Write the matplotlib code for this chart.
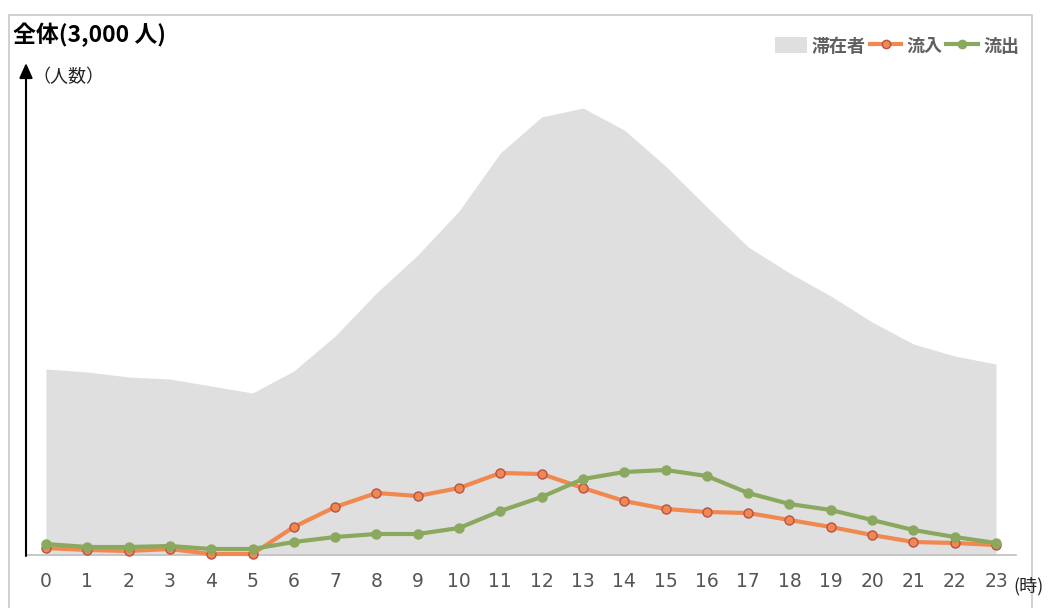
import matplotlib
matplotlib.use("Agg")
import matplotlib.pyplot as plt
from matplotlib.patches import Rectangle
from matplotlib.lines import Line2D
from matplotlib.patches import Patch

plt.rcParams['font.family'] = ['Noto Sans CJK JP', 'DejaVu Sans']

hours = list(range(24))
hour_labels = [str(h) for h in hours]
stay = [186, 183, 178, 176, 169, 162, 184, 219, 262, 300, 344, 402,
        438, 447, 425, 389, 348, 308, 282, 259, 233, 211, 199, 191]
inflow = [7, 5, 4, 6, 1, 1, 28, 48, 62, 59, 67, 82,
          81, 67, 54, 46, 43, 42, 35, 28, 20, 13, 12, 10]
outflow = [11, 8, 8, 9, 6, 6, 13, 18, 21, 21, 27, 44,
           58, 76, 83, 85, 79, 62, 51, 45, 35, 25, 18, 12]

W, H = 1051, 608
fig = plt.figure(figsize=(W / 100, H / 100), dpi=100)

# outer frame
fig.patches.append(Rectangle((9 / W, -0.1), (1032 - 9) / W, (H - 15) / H + 0.1,
                             transform=fig.transFigure, fill=False,
                             edgecolor='#c8c8c8', linewidth=1.2))

left, right = 26, 1016
bottom_px, top_px = 555, 62
ax = fig.add_axes([left / W, (H - bottom_px) / H, (right - left) / W,
                   (bottom_px - top_px) / H])
ax.set_xlim(-0.484, 23.484)
ax.set_ylim(0, bottom_px - top_px)

c_stay = '#dfdfdf'
c_in = '#f0884f'
c_in_edge = '#b5524a'
c_out = '#8aa85e'

ax.fill_between(hours, stay, 0, color=c_stay, linewidth=0, zorder=1)
ax.plot(hours, inflow, color=c_in, lw=3.0, marker='o', markersize=6.5,
        markerfacecolor=c_in, markeredgecolor=c_in_edge, markeredgewidth=1.0,
        zorder=3, clip_on=False)
ax.plot(hours, outflow, color=c_out, lw=3.0, marker='o', markersize=6.5,
        markerfacecolor=c_out, markeredgecolor=c_out, markeredgewidth=1.0,
        zorder=4, clip_on=False)

for s in ['top', 'right', 'left']:
    ax.spines[s].set_visible(False)
ax.spines['bottom'].set_color('#bfbfbf')
ax.spines['bottom'].set_linewidth(1.2)
ax.set_yticks([])
ax.set_xticks(hours)
ax.set_xticklabels(hour_labels, family='DejaVu Sans', fontsize=13.5,
                   color='#555555')
ax.tick_params(axis='x', length=0, pad=12)

# vertical arrow axis
ax.annotate('', xy=(left / W, (H - 63) / H), xytext=(left / W, (H - 556) / H),
            xycoords='figure fraction', textcoords='figure fraction',
            arrowprops=dict(arrowstyle='-|>,head_length=0.9,head_width=0.4',
                            color='black', lw=1.5, shrinkA=0, shrinkB=0))

fig.text(13 / W, (H - 35) / H, '全体(3,000 人)', fontsize=16.5, fontweight='bold',
         color='black', va='center', ha='left')
fig.text(32 / W, (H - 77) / H, '（人数）', fontsize=13, color='#222222',
         va='center', ha='left')
fig.text(1013 / W, (H - 586) / H, '(時)', fontsize=13, color='#222222',
         va='center', ha='left')

handles = [Patch(facecolor=c_stay, edgecolor='none'),
           Line2D([0], [0], color=c_in, lw=3, marker='o', markersize=6,
                  markerfacecolor=c_in, markeredgecolor=c_in_edge),
           Line2D([0], [0], color=c_out, lw=3, marker='o', markersize=6,
                  markerfacecolor=c_out, markeredgecolor=c_out)]
leg = fig.legend(handles, ['滞在者', '流入', '流出'], ncol=3, frameon=False,
                 loc='center right', bbox_to_anchor=(1019 / W, (H - 46) / H),
                 handlelength=1.75, handleheight=1.0, handletextpad=0.28,
                 columnspacing=0.22, borderpad=0, borderaxespad=0,
                 prop={'size': 13, 'weight': 'bold'})
for t in leg.get_texts():
    t.set_color('#606060')

fig.savefig('out.png', dpi=100)
